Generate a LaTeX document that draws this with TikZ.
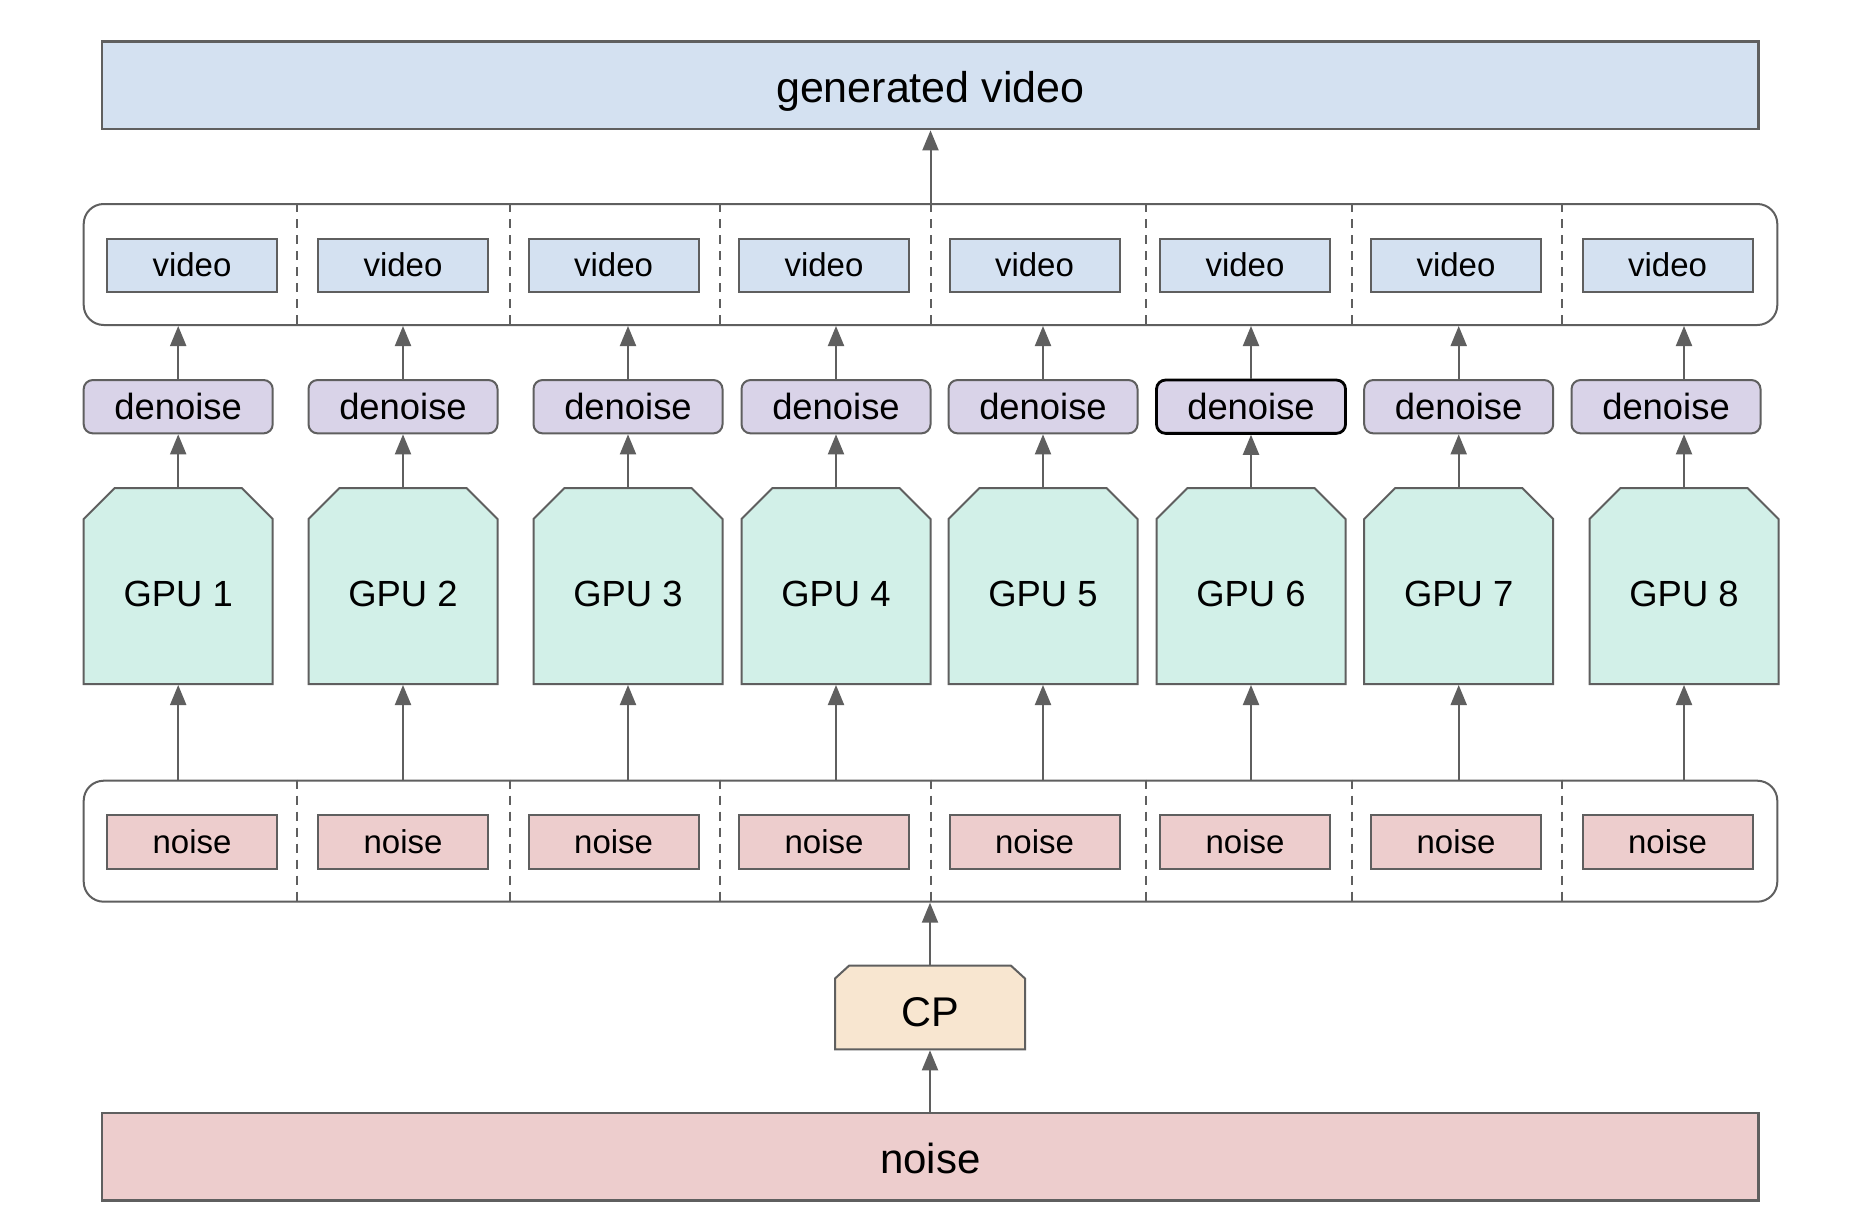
\documentclass[tikz,border=0pt]{standalone}
\usepackage{fontspec}
\setmainfont{Liberation Sans}
\usetikzlibrary{arrows.meta}
\definecolor{lineg}{HTML}{5F5F5F}
\definecolor{vblue}{HTML}{D4E1F1}
\definecolor{dpurple}{HTML}{D9D3E8}
\definecolor{ggreen}{HTML}{D2F0E8}
\definecolor{npink}{HTML}{EDCDCD}
\definecolor{cporange}{HTML}{F8E6D0}
\begin{document}
\begin{tikzpicture}[x=1pt,y=-1pt,
  box/.style={draw=lineg, line width=2pt, inner sep=0pt, text=black, align=center},
  bigbox/.style={box, line width=2.6pt, minimum width=1656.7pt, minimum height=87.7pt},
  outerbox/.style={box, fill=white, rounded corners=20pt, minimum width=1693.6pt, minimum height=121pt},
  vidbox/.style={box, fill=vblue, minimum width=170pt, minimum height=53pt, text height=22.6pt, text depth=0pt, font=\fontsize{33}{40}\selectfont},
  nzbox/.style={box, fill=npink, minimum width=170pt, minimum height=54pt, text height=23pt, text depth=0pt, font=\fontsize{33}{40}\selectfont},
  dnbox/.style={box, fill=dpurple, rounded corners=9pt, minimum width=189pt, minimum height=53.3pt, text height=25.2pt, text depth=0pt, font=\fontsize{36.4}{44}\selectfont},
  gpubox/.style={box, draw=none, minimum width=189pt, minimum height=196pt, text height=40pt, text depth=0pt, font=\fontsize{36.4}{44}\selectfont},
  gpushape/.style={draw=lineg, fill=ggreen, line width=2pt},
  cpbox/.style={box, draw=none, minimum width=190pt, minimum height=83.6pt, text height=37pt, text depth=0pt, font=\fontsize{41.5}{50}\selectfont},
  cpshape/.style={draw=lineg, fill=cporange, line width=2pt},
  arr/.style={draw=lineg, line width=2pt, -{Triangle[length=20pt,width=16pt]}},
  divider/.style={draw=lineg, line width=2pt, dash pattern=on 9pt off 7pt}
]
\useasboundingbox (0,0) rectangle (1876,1228);
\fill[white] (0,0) rectangle (1876,1228);

% big boxes
\node[bigbox, fill=vblue, text height=34.5pt, text depth=0pt, font=\fontsize{43}{52}\selectfont] (gen) at (930.3,85.2) {generated video};
\node[bigbox, fill=npink, text height=33pt, text depth=0pt, font=\fontsize{42}{50}\selectfont] (bign) at (930.3,1156.7) {noise};

% container boxes
\node[outerbox] (vout) at (930.5,264.5) {};
\node[outerbox] (nout) at (930.5,841.2) {};

% dividers
\foreach \dx in {296.7,509.5,720,930.5,1146,1351.5,1562}{
  \draw[divider] (\dx,0 |- vout.north) -- (\dx,0 |- vout.south);
  \draw[divider] (\dx,0 |- nout.north) -- (\dx,0 |- nout.south);
}

% column nodes
\foreach \i/\gx/\vx in {1/178.2/192,2/403/403,3/628/613.6,4/836/824,5/1043/1034.5,6/1251/1245,7/1458.7/1456,8/1684/1667.5}{
  \node[vidbox] (v\i) at (\vx,265.5) {video};
  \node[nzbox] (n\i) at (\vx,841.5) {noise};
  \filldraw[gpushape] (\gx-94.5,684) -- (\gx-94.5,519) -- (\gx-63.5,488) -- (\gx+63.5,488) -- (\gx+94.5,519) -- (\gx+94.5,684) -- cycle;
  \node[gpubox] (g\i) at (\gx,586) {GPU \i};
}
\foreach \i/\dx in {1/178.2,2/403,3/628,4/836,5/1043,7/1458.7,8/1666}{
  \node[dnbox] (d\i) at (\dx,406.7) {denoise};
}
\node[dnbox, draw=black, line width=2.8pt] (d6) at (1251,406.7) {denoise};

% CP
\filldraw[cpshape] (835,1049.3) -- (835,978.5) -- (849,965.7) -- (1011,965.7) -- (1025,978.5) -- (1025,1049.3) -- cycle;
\node[cpbox] (cp) at (930,1007.5) {CP};

% arrows
\foreach \i in {1,...,8}{
  \draw[arr] (g\i.north) -- (g\i.north |- d\i.south);
  \draw[arr] (g\i.north |- d\i.north) -- (g\i.north |- vout.south);
  \draw[arr] (g\i.south |- nout.north) -- (g\i.south);
}
\draw[arr] (vout.north) -- (vout.north |- gen.south);
\draw[arr] (cp.north) -- (cp.north |- nout.south);
\draw[arr] (cp.south |- bign.north) -- (cp.south);
\end{tikzpicture}
\end{document}
